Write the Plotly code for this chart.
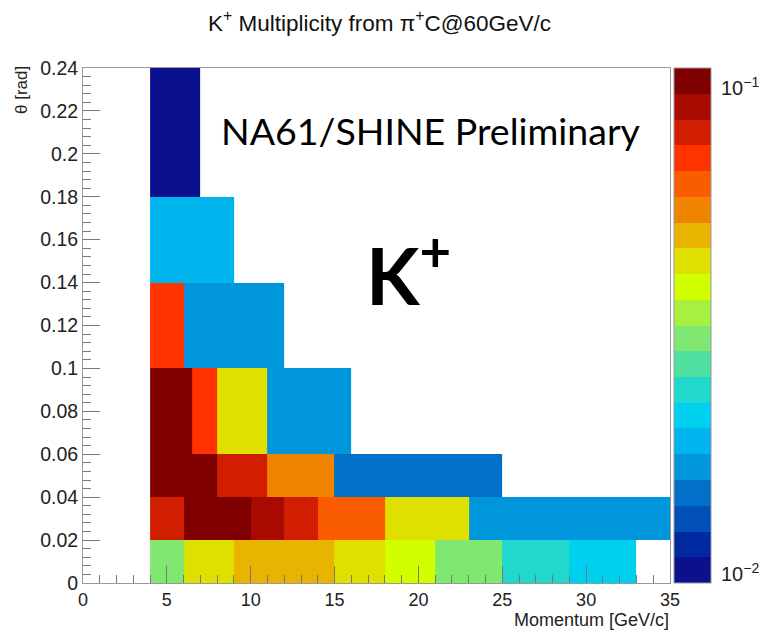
import math
import plotly.graph_objects as go

# ---------------- data ----------------
theta_edges = [0.0, 0.02, 0.04, 0.06, 0.10, 0.14, 0.18, 0.24]

# momentum bin edges and K+ multiplicity per theta row (bottom -> top)
row0_p = [4, 6, 9, 15, 18, 21, 25, 29, 33]
row0_v = [0.030, 0.044, 0.049, 0.044, 0.039, 0.030, 0.024, 0.021]
row1_p = [4, 6, 10, 12, 14, 18, 23, 35]
row1_v = [0.080, 0.103, 0.091, 0.080, 0.063, 0.044, 0.0165]
row2_p = [4, 8, 11, 15, 25]
row2_v = [0.103, 0.080, 0.056, 0.0146]
row3_p = [4, 6.5, 8, 11, 16]
row3_v = [0.103, 0.071, 0.044, 0.0165]
row4_p = [4, 6, 12]
row4_v = [0.071, 0.0165]
row5_p = [4, 9]
row5_v = [0.0186]
row6_p = [4, 7]
row6_v = [0.0101]

rows_p = [row0_p, row1_p, row2_p, row3_p, row4_p, row5_p, row6_p]
rows_v = [row0_v, row1_v, row2_v, row3_v, row4_v, row5_v, row6_v]

z_min, z_max = 0.0095, 0.109
band_colors = ["#0B108C", "#0028A0", "#0050B8", "#0070C8", "#0096DC",
               "#00B4EE", "#00D0F0", "#20D8CC", "#50E0A0", "#80E870",
               "#A8F040", "#D2FF00", "#E0E000", "#E8B400", "#F08400",
               "#FA5C00", "#FF3200", "#D21E00", "#A80A00", "#800000"]

x_tickvals = [0, 5, 10, 15, 20, 25, 30, 35]
x_ticktext = ["0", "5", "10", "15", "20", "25", "30", "35"]
y_tickvals = [0, 0.02, 0.04, 0.06, 0.08, 0.10, 0.12, 0.14, 0.16, 0.18, 0.20, 0.22, 0.24]
y_ticktext = ["0", "0.02", "0.04", "0.06", "0.08", "0.1", "0.12", "0.14", "0.16",
              "0.18", "0.2", "0.22", "0.24"]
cb_major_vals = [0.01, 0.1]
cb_major_text = ["10<sup>−2</sup>", "10<sup>−1</sup>"]
cb_minor_vals = [0.02, 0.03, 0.04, 0.05, 0.06, 0.07, 0.08, 0.09]

# ---------------- build grid ----------------
all_edges = sorted(set(e for r in rows_p for e in r))
ncol = len(all_edges) - 1
z = []
for p_edges, vals in zip(rows_p, rows_v):
    row = []
    for j in range(ncol):
        xc = 0.5 * (all_edges[j] + all_edges[j + 1])
        val = None
        for k in range(len(vals)):
            if p_edges[k] <= xc < p_edges[k + 1]:
                val = math.log10(vals[k])
        row.append(val)
    z.append(row)

lo, hi = math.log10(z_min), math.log10(z_max)
n = len(band_colors)
cscale = []
for k, c in enumerate(band_colors):
    cscale.append([k / n, c])
    cscale.append([(k + 1) / n, c])

L, R, T, B = 83, 89, 68, 48
W, H = 759, 631
pw, ph = W - L - R, H - T - B
CB_X0, CB_TH = 674, 37

fig = go.Figure(go.Heatmap(
    x=all_edges, y=theta_edges, z=z,
    zmin=lo, zmax=hi, colorscale=cscale, hoverongaps=False,
    colorbar=dict(
        x=(CB_X0 - L) / pw, xanchor="left", xpad=0, y=1, yanchor="top", ypad=0,
        thickness=CB_TH, lenmode="pixels", len=ph,
        outlinewidth=1, outlinecolor="#999",
        showticklabels=False, ticks="",
    ),
))

# colour-bar ticks (inside, from right edge) and labels
x_right = (CB_X0 + CB_TH - L) / pw
for v in cb_minor_vals + cb_major_vals:
    yy = (math.log10(v) - lo) / (hi - lo)
    tl = 18 if v in cb_major_vals else 10
    fig.add_shape(type="line", xref="paper", yref="paper",
                  x0=(CB_X0 + CB_TH - tl - L) / pw, x1=x_right,
                  y0=yy, y1=yy, line=dict(color="#444", width=1.2))
for v, t in zip(cb_major_vals, cb_major_text):
    yy = (math.log10(v) - lo) / (hi - lo)
    fig.add_annotation(text=t, xref="paper", yref="paper",
                       x=(CB_X0 + CB_TH + 8 - L) / pw, y=yy,
                       xanchor="left", yanchor="middle", showarrow=False,
                       font=dict(family="Liberation Sans", size=20, color="#222"))

axis_common = dict(showgrid=False, zeroline=False, showline=True, mirror=True,
                   linecolor="#999", linewidth=1, ticks="inside", ticklen=17,
                   tickcolor="#777")

fig.update_xaxes(range=[0, 35], tickvals=x_tickvals, ticktext=x_ticktext,
                 tickfont=dict(family="Liberation Sans", size=18, color="#222"),
                 minor=dict(dtick=1, ticks="inside", ticklen=8, tickcolor="#777"),
                 **axis_common)
fig.update_yaxes(range=[0, 0.24], tickvals=y_tickvals, ticktext=y_ticktext,
                 tickfont=dict(family="Liberation Sans", size=19.5, color="#222"),
                 minor=dict(dtick=0.004, ticks="inside", ticklen=8, tickcolor="#777"),
                 **axis_common)

fig.update_layout(
    width=W, height=H,
    margin=dict(l=L, r=R, t=T, b=B),
    paper_bgcolor="white", plot_bgcolor="white",
    title=dict(text="K<sup>+</sup> Multiplicity from π<sup>+</sup>C@60GeV/c",
               x=0.5, xref="container", xanchor="center",
               y=1 - 23 / H, yref="container", yanchor="middle",
               font=dict(family="Liberation Sans", size=22.5, color="#111")),
)
fig.add_annotation(text="NA61/SHINE Preliminary", xref="paper", yref="paper",
                   x=(431 - L) / pw, y=1 - (130 - T) / ph, xanchor="center", yanchor="middle",
                   showarrow=False, font=dict(family="Lato", size=37.5, color="black"))
fig.add_annotation(text="<b>K<sup>+</sup></b>", xref="paper", yref="paper",
                   x=(408 - L) / pw, y=1 - (270 - T) / ph, xanchor="center", yanchor="middle",
                   showarrow=False, font=dict(family="Lato", size=78, color="black"))
fig.add_annotation(text="Momentum [GeV/c]", xref="paper", yref="paper",
                   x=1, y=-(631 - T - ph) / ph, xanchor="right", yanchor="bottom",
                   borderpad=0,
                   showarrow=False, font=dict(family="Liberation Sans", size=18, color="#222"))
fig.add_annotation(text="θ [rad]", xref="paper", yref="paper", textangle=-90,
                   x=(21 - L) / pw, y=1 - (90 - T) / ph, xanchor="center", yanchor="middle",
                   showarrow=False, font=dict(family="Liberation Sans", size=17, color="#222"))

fig.write_html("out.html")
